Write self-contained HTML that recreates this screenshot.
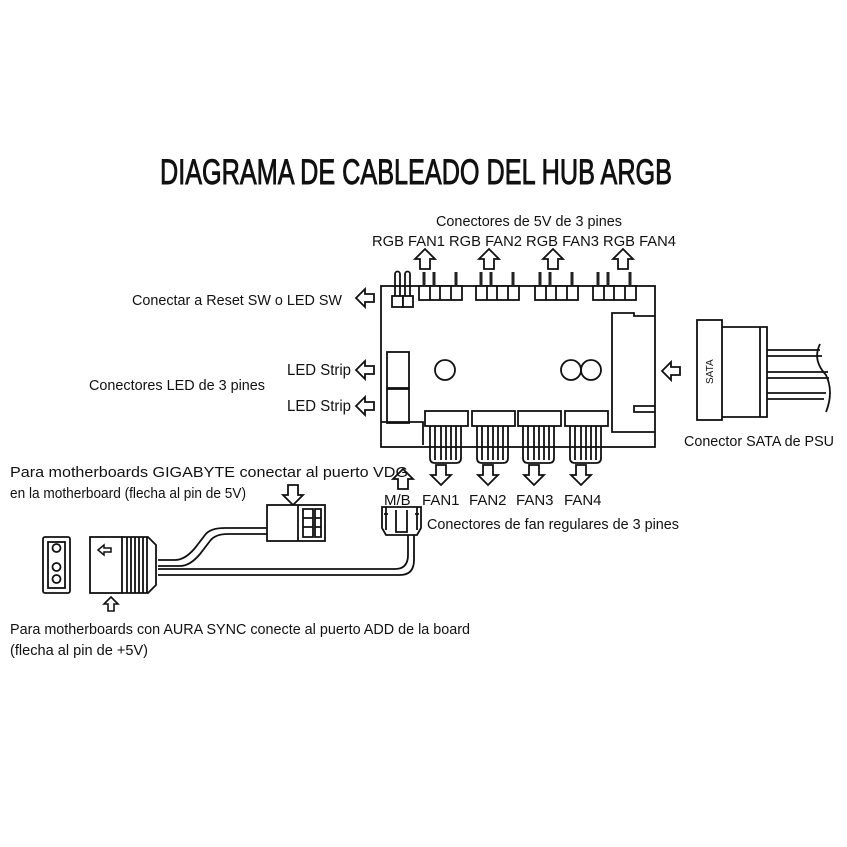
<!DOCTYPE html>
<html><head><meta charset="utf-8"><style>
html,body{margin:0;padding:0;background:#fff}
svg{display:block}
text{font-family:"Liberation Sans",sans-serif;fill:#111}
</style></head><body>
<svg width="847" height="847" viewBox="0 0 847 847" xmlns="http://www.w3.org/2000/svg">
<rect width="847" height="847" fill="#fff"/>
<defs>
<path id="up" d="M0,0 L10,10 L5,10 L5,20 L-5,20 L-5,10 L-10,10 Z" fill="#fff" stroke="#111" stroke-width="1.8"/>
<path id="dn" d="M0,20 L10,10 L5,10 L5,0 L-5,0 L-5,10 L-10,10 Z" fill="#fff" stroke="#111" stroke-width="1.8"/>
<path id="lf" d="M0,0 L9,-9 L9,-4 L18,-4 L18,4 L9,4 L9,9 Z" fill="#fff" stroke="#111" stroke-width="1.8"/>
</defs>
<text x="160" y="184" font-size="35" stroke="#111" stroke-width="0.9" textLength="512" lengthAdjust="spacingAndGlyphs">DIAGRAMA DE CABLEADO DEL HUB ARGB</text>
<text x="436" y="226" font-size="15" textLength="186" lengthAdjust="spacingAndGlyphs">Conectores de 5V de 3 pines</text>
<text x="372" y="246" font-size="15" textLength="304" lengthAdjust="spacingAndGlyphs">RGB FAN1  RGB FAN2  RGB FAN3  RGB FAN4</text>
<use href="#up" x="425" y="249"/><use href="#up" x="489" y="249"/><use href="#up" x="553" y="249"/><use href="#up" x="623" y="249"/>
<g fill="none" stroke="#111" stroke-width="1.8">
<rect x="381" y="286" width="274" height="161" fill="#fff"/>
<path d="M395,296 V274 a2.5,2.5 0 0 1 5,0 V296 M405,296 V274 a2.5,2.5 0 0 1 5,0 V296"/>
<rect x="392" y="296" width="11" height="11" fill="#fff"/><rect x="403" y="296" width="10" height="11" fill="#fff"/>
<g id="h1">
<rect x="419" y="286" width="43" height="14" fill="#fff"/>
<path d="M430,286 V300 M440,286 V300 M451,286 V300"/>
</g>
<use href="#h1" x="57"/><use href="#h1" x="116"/><use href="#h1" x="174"/>
<rect x="387" y="352" width="22" height="36"/>
<rect x="387" y="389" width="22" height="34"/>
<path d="M381,422 H423 V445"/>
<circle cx="445" cy="370" r="10"/><circle cx="571" cy="370" r="10"/><circle cx="591" cy="370" r="10"/>
<path d="M655,316 H634 V313 H612 V432 H655 M655,412 H634 V406 H655"/>
<g id="f1">
<rect x="425" y="411" width="43" height="15" fill="#fff"/>
<path d="M430,426 V458 q0,5 5,5 H456 q5,0 5,-5 V426 M435,426 V460 M441,426 V460 M446,426 V460 M451,426 V460 M456,426 V460"/>
</g>
<use href="#f1" x="47"/><use href="#f1" x="93"/><use href="#f1" x="140"/>
</g>
<g fill="#222">
<g id="p1"><rect x="422.5" y="272" width="3" height="14"/><rect x="432.5" y="272" width="3" height="14"/><rect x="454.5" y="272" width="3" height="14"/></g>
<use href="#p1" x="57"/><use href="#p1" x="116"/><use href="#p1" x="174"/>
</g>
<use href="#dn" x="441" y="465"/><use href="#dn" x="488" y="465"/><use href="#dn" x="534" y="465"/><use href="#dn" x="581" y="465"/>
<use href="#up" x="403" y="469"/>
<text x="384" y="505" font-size="15">M/B</text>
<text x="422" y="505" font-size="15">FAN1</text><text x="469" y="505" font-size="15">FAN2</text><text x="516" y="505" font-size="15">FAN3</text><text x="564" y="505" font-size="15">FAN4</text>
<text x="427" y="529" font-size="15" textLength="252" lengthAdjust="spacingAndGlyphs">Conectores de fan regulares de 3 pines</text>
<text x="132" y="305" font-size="15" textLength="210" lengthAdjust="spacingAndGlyphs">Conectar a Reset SW o LED SW</text>
<use href="#lf" x="356" y="298"/>
<text x="287" y="375" font-size="16" textLength="64" lengthAdjust="spacingAndGlyphs">LED Strip</text>
<use href="#lf" x="356" y="370"/>
<text x="287" y="411" font-size="16" textLength="64" lengthAdjust="spacingAndGlyphs">LED Strip</text>
<use href="#lf" x="356" y="406"/>
<text x="89" y="390" font-size="15" textLength="176" lengthAdjust="spacingAndGlyphs">Conectores LED de 3 pines</text>
<use href="#lf" x="662" y="371"/>
<g fill="none" stroke="#111" stroke-width="1.8">
<rect x="697" y="320" width="25" height="100" fill="#fff"/>
<path d="M722,327 H767 V417 H722 M760,327 V417"/>
<path d="M767,350 H820 M767,356 H822 M767,372 H828 M767,378 H829 M767,393 H826 M767,399 H824 M820,344 Q812,360 826,375 Q834,392 826,412"/>
</g>
<text x="713" y="384" font-size="10" transform="rotate(-90 713 384)" fill="#111">SATA</text>
<text x="684" y="446" font-size="15" textLength="150" lengthAdjust="spacingAndGlyphs">Conector SATA de PSU</text>
<text x="10" y="477" font-size="15" textLength="398" lengthAdjust="spacingAndGlyphs">Para motherboards GIGABYTE conectar al puerto VDG</text>
<text x="10" y="498" font-size="15" textLength="236" lengthAdjust="spacingAndGlyphs">en la motherboard (flecha al pin de 5V)</text>
<use href="#dn" x="293" y="485"/>
<g fill="none" stroke="#111" stroke-width="1.8">
<path d="M158,560 H175 Q185,560 195,548 L205,535 Q210,528 225,528 H268 M158,566 H180 Q190,566 200,554 L210,541 Q215,534 228,534 H268"/>
<path d="M158,569 H395 Q408,569 408,555 V535 M158,575 H400 Q414,575 414,560 V535"/>
<rect x="267" y="505" width="58" height="36" fill="#fff"/>
<path d="M298,505 V541 M303,509 H313 V537 H303 Z M303,518 H313 M303,527 H313 M315,509 H321 V537 H315 Z M315,518 H321 M315,527 H321"/>
<path d="M382,507 H421 V528 L417,535 H386 L382,528 Z M386,507 V530 M417,507 V530 M396,510 V532 H407 V510 M384,514 H388 M415,514 H419"/>
<rect x="43" y="537" width="27" height="56" rx="2"/>
<rect x="48" y="542" width="17" height="46"/>
<circle cx="56.5" cy="548" r="4"/><circle cx="56.5" cy="567" r="4"/><circle cx="56.5" cy="579" r="4"/>
<rect x="90" y="537" width="32" height="56" fill="#fff"/>
<path d="M122,537 H148 L156,545 V585 L148,593 H122 M127,537 V593 M131,537 V593 M135,537 V593 M139,537 V593 M143,537 V593 M147,537 V593"/>
</g>
<path d="M98,550 L104,545 V548 H111 V552 H104 V555 Z" fill="#fff" stroke="#111" stroke-width="1.5"/>
<path d="M111,597 L118,604 H114 V611 H108 V604 H104 Z" fill="#fff" stroke="#111" stroke-width="1.6"/>
<text x="10" y="634" font-size="15" textLength="460" lengthAdjust="spacingAndGlyphs">Para motherboards con AURA SYNC conecte al puerto ADD de la board</text>
<text x="10" y="655" font-size="15" textLength="138" lengthAdjust="spacingAndGlyphs">(flecha al pin de +5V)</text>
</svg>
</body></html>
